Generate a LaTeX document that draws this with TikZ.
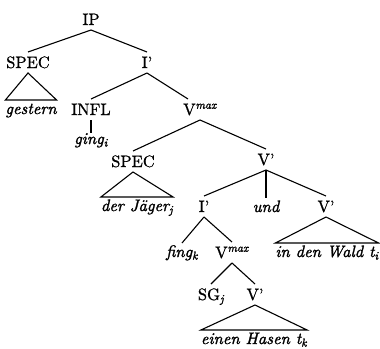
\documentclass[tikz,border=0pt]{standalone}
\usepackage{fontspec}
\setmainfont{lmroman10-regular}[Extension=.otf,
  ItalicFont=lmroman10-italic, FakeBold=0.8,
  ItalicFeatures={FakeBold=1.6}]
\usetikzlibrary{calc}
\newcommand{\sub}[1]{\textsubscript{\itshape #1}}
\newcommand{\maxproj}{V\textsuperscript{\itshape max}}
\begin{document}
\begin{tikzpicture}[x=1pt,y=-1pt,
  cat/.style={anchor=base, inner sep=0pt, outer xsep=0pt, outer ysep=5pt,
    text height=11pt, text depth=0pt, font=\fontsize{16.5}{19}\selectfont},
  word/.style={cat, outer ysep=3pt, font=\fontsize{16.5}{19}\selectfont\itshape},
  branch/.style={line width=1.1pt},
]
\useasboundingbox (0,0) rectangle (380,348);

% categories
\node[cat] (ip)    at (91,25)  {IP};
\node[cat] (spec1) at (28,68)  {SPEC};
\node[cat] (ib1)   at (147,68) {I'};
\node[cat] (infl)  at (91,115) {INFL};
\node[cat] (vmax1) at (200,115) {\maxproj};
\node[cat] (spec2) at (133,167) {SPEC};
\node[cat] (vb1)   at (266,165) {V'};
\node[cat] (ib2)   at (204,212) {I'};
\node[cat] (vb2)   at (326,212) {V'};
\node[cat] (vmax2) at (232,258) {\maxproj};
\node[cat] (sg)    at (211,300) {SG\sub{j}};
\node[cat] (vb3)   at (255,300) {V'};

% words
\node[word] (gestern) at (31,114)  {gestern};
\node[word] (ging)    at (91,144)  {ging\sub{i}};
\node[word] (jaeger)  at (137,211) {der J\"ager\sub{j}};
\node[word] (und)     at (266,212) {und};
\node[word] (fing)    at (182,257) {fing\sub{k}};
\node[word] (wald)    at (327,257) {in den Wald t\sub{i}};
\node[word] (hasen)   at (254,344) {einen Hasen t\sub{k}};

% branches
\draw[branch] (ip.south) -- (spec1.north);
\draw[branch] (ip.south) -- (ib1.north);
\draw[branch] (ib1.south) -- (infl.north);
\draw[branch] (ib1.south) -- ($(vmax1.north)+(-12,0)$);
\draw[branch] (infl.south) -- ($(ging.north)+(0,3)$);
\draw[branch] (vmax1.south) -- (spec2.north);
\draw[branch] (vmax1.south) -- (vb1.north);
\draw[branch] (vb1.south) -- (ib2.north);
\draw[branch] (vb1.south) -- (und.north);
\draw[branch] (vb1.south) -- (vb2.north);
\draw[branch] (ib2.south) -- (fing.north);
\draw[branch] (ib2.south) -- (vmax2.north);
\draw[branch] (vmax2.south) -- (sg.north);
\draw[branch] (vmax2.south) -- (vb3.north);

% triangles over unanalysed constituents
\draw[branch] (spec1.south) -- (gestern.north west) -- (gestern.north east) -- cycle;
\draw[branch] (spec2.south) -- (jaeger.north west) -- (jaeger.north east) -- cycle;
\draw[branch] (vb2.south) -- (wald.north west) -- (wald.north east) -- cycle;
\draw[branch] (vb3.south) -- (hasen.north west) -- (hasen.north east) -- cycle;
\end{tikzpicture}
\end{document}
